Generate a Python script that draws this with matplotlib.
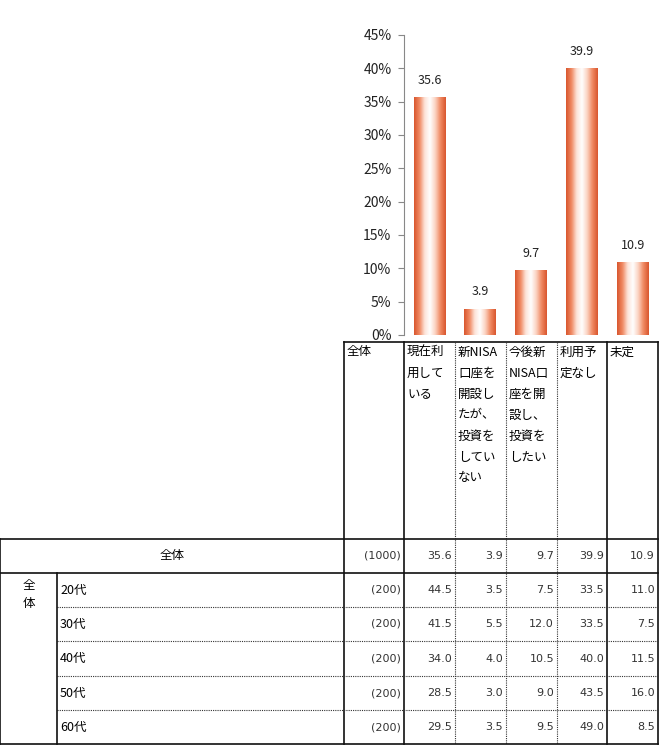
import numpy as np
import matplotlib
matplotlib.use("Agg")
import matplotlib.pyplot as plt
from matplotlib.colors import LinearSegmentedColormap

plt.rcParams['font.family'] = ['Noto Sans CJK JP', 'DejaVu Sans']

# data
header_lines = [
    ['現在利', '用して', 'いる'],
    ['新NISA', '口座を', '開設し', 'たが、', '投資を', 'してい', 'ない'],
    ['今後新', 'NISA口', '座を開', '設し、', '投資を', 'したい'],
    ['利用予', '定なし'],
    ['未定'],
]
total_label = '全体'
total_n = 1000
total_vals = [35.6, 3.9, 9.7, 39.9, 10.9]
ages = ['20代', '30代', '40代', '50代', '60代']
age_n = [200, 200, 200, 200, 200]
age_vals = [
    [44.5, 3.5, 7.5, 33.5, 11.0],
    [41.5, 5.5, 12.0, 33.5, 7.5],
    [34.0, 4.0, 10.5, 40.0, 11.5],
    [28.5, 3.0, 9.0, 43.5, 16.0],
    [29.5, 3.5, 9.5, 49.0, 8.5],
]

W, H = 660, 746
fig = plt.figure(figsize=(W / 100, H / 100), dpi=100)

# layout in pixels
col_edges = [344, 404, 455, 506, 557, 607, 658]
head_top = 342
row_edges = [539, 573, 607, 641, 676, 710, 744]
left_col = 57
chart_top, chart_bot = 35, 335

# ---------- bar chart ----------
ax = fig.add_axes([col_edges[1] / W, 1 - chart_bot / H,
                   (col_edges[-1] - col_edges[1]) / W, (chart_bot - chart_top) / H])
x = np.arange(len(total_vals))
ax.set_xlim(-0.5, len(total_vals) - 0.5)
ax.set_ylim(0, 45)

cmap = LinearSegmentedColormap.from_list(
    'bar', ['#d9572f', '#f08a63', '#fde3d8', '#ffffff', '#fbd3c2', '#f08a63', '#d9572f'])
grad = np.linspace(0, 1, 64).reshape(1, -1)
bw = 0.62
for xi, v in zip(x, total_vals):
    ax.imshow(grad, cmap=cmap, aspect='auto', interpolation='bicubic',
              extent=(xi - bw / 2, xi + bw / 2, 0, v), zorder=2)
    ax.text(xi, v + 1.6, f'{v:.1f}', ha='center', va='bottom', fontsize=9, color='#222')

ax.set_yticks(np.arange(0, 46, 5))
ax.set_yticklabels([f'{t}%' for t in range(0, 46, 5)], fontsize=10, color='#222')
ax.set_xticks([])
for s in ['top', 'right', 'bottom']:
    ax.spines[s].set_visible(False)
ax.spines['left'].set_color('#888888')
ax.tick_params(axis='y', length=4, color='#888888', pad=5)
ax.set_facecolor('none')

# ---------- table ----------
tb = fig.add_axes([0, 0, 1, 1], zorder=-1)
tb.set_xlim(0, W)
tb.set_ylim(H, 0)
tb.axis('off')

solid = dict(color='#111111', lw=1.2)
dotted = dict(color='#333333', lw=0.8, linestyle=(0, (1, 1)))
numfont = dict(family=['DejaVu Sans'], fontsize=8, color='#333333')

# header block
tb.plot([col_edges[0], col_edges[-1]], [head_top, head_top], **solid)
for i, cx in enumerate(col_edges):
    style = dotted if i in (2, 3, 4) else solid
    tb.plot([cx, cx], [head_top, row_edges[-1]], **style)

tb.text(col_edges[0] + 3, head_top + 10, total_label, fontsize=9, va='center', ha='left')
for j, lines in enumerate(header_lines):
    for k, ln in enumerate(lines):
        tb.text(col_edges[j + 1] + 3, head_top + 10 + 21 * k, ln,
                fontsize=9, va='center', ha='left')

# data block
tb.plot([0, col_edges[-1]], [row_edges[0], row_edges[0]], **solid)
tb.plot([0, col_edges[-1]], [row_edges[1], row_edges[1]], **solid)
tb.plot([0, col_edges[-1]], [row_edges[-1], row_edges[-1]], **solid)
for r in row_edges[2:-1]:
    tb.plot([left_col, col_edges[-1]], [r, r], **dotted)
tb.plot([0, 0], [row_edges[0], row_edges[-1]], **solid)
tb.plot([left_col, left_col], [row_edges[1], row_edges[-1]], **solid)

def put_row(y0, y1, n, vals):
    yc = (y0 + y1) / 2
    tb.text(col_edges[1] - 3, yc, f'({n})', ha='right', va='center', **numfont)
    for j, v in enumerate(vals):
        tb.text(col_edges[j + 2] - 3, yc, f'{v:.1f}', ha='right', va='center', **numfont)

tb.text(col_edges[0] / 2, (row_edges[0] + row_edges[1]) / 2, total_label,
        fontsize=9, ha='center', va='center')
put_row(row_edges[0], row_edges[1], total_n, total_vals)

for k, ch in enumerate(total_label):
    tb.text(left_col / 2, row_edges[1] + 12 + 18 * k, ch, fontsize=9, ha='center', va='center')
for i, (a, n, vals) in enumerate(zip(ages, age_n, age_vals)):
    y0, y1 = row_edges[i + 1], row_edges[i + 2]
    tb.text(left_col + 3, (y0 + y1) / 2, a, fontsize=9, ha='left', va='center')
    put_row(y0, y1, n, vals)

fig.savefig('out.png', dpi=100, facecolor='white')
